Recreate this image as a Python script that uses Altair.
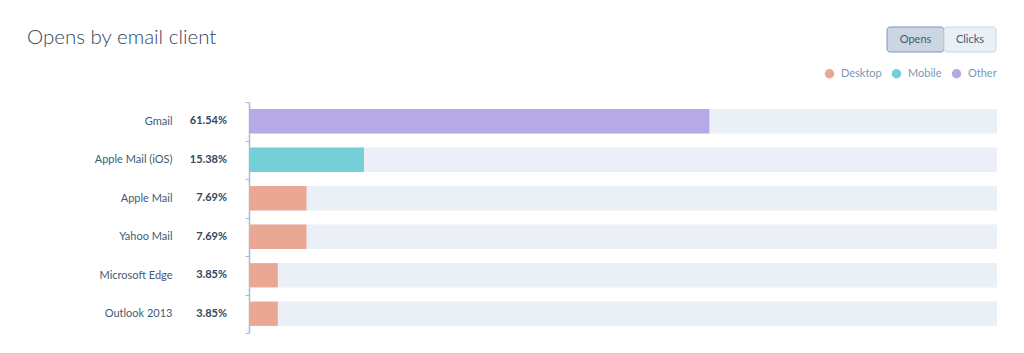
import altair as alt
import pandas as pd

clients = ["Gmail", "Apple Mail (iOS)", "Apple Mail", "Yahoo Mail", "Microsoft Edge", "Outlook 2013"]
pcts = [61.54, 15.38, 7.69, 7.69, 3.85, 3.85]
types = ["Other", "Mobile", "Desktop", "Desktop", "Desktop", "Desktop"]

type_names = ["Desktop", "Mobile", "Other"]
type_colors = ["#eaa794", "#74cfd7", "#b7a9e5"]

buttons = ["Opens", "Clicks"]

df = pd.DataFrame({"client": clients, "pct": pcts, "type": types})
df["label"] = [f"{p:.2f}%" for p in pcts]

FONT = "Lato"

y_enc = alt.Y(
    "client:N",
    sort=clients,
    title=None,
    scale=alt.Scale(paddingInner=0, paddingOuter=0),
    axis=alt.Axis(
        domainColor="#a9bccf",
        domainWidth=1.5,
        tickColor="#a9bccf",
        tickSize=4,
        tickBand="extent",
        labelPadding=73,
        labelFont=FONT,
        labelFontSize=11,
        labelColor="#425b76",
        labelAlign="right",
    ),
)

base = alt.Chart(df)

bg = base.transform_calculate(full="100").mark_bar(
    color="#eaf0f6", height={"band": 0.63}
).encode(
    x=alt.X("full:Q", scale=alt.Scale(domain=[0, 100], nice=False), axis=None),
    y=y_enc,
)

bars = base.mark_bar(height={"band": 0.63}).encode(
    x=alt.X("pct:Q", scale=alt.Scale(domain=[0, 100], nice=False), axis=None),
    y=y_enc,
    color=alt.Color(
        "type:N",
        scale=alt.Scale(domain=type_names, range=type_colors),
        legend=alt.Legend(
            title=None,
            orient="none",
            direction="horizontal",
            legendX=575,
            legendY=-34,
            symbolType="circle",
            symbolSize=90,
            symbolStrokeWidth=0,
            labelFont=FONT,
            labelFontSize=11,
            labelColor="#7c98b6",
            columnPadding=9,
            labelOffset=6,
        ),
    ),
)

pct_text = base.mark_text(
    align="right", baseline="middle", font=FONT, fontSize=11, fontWeight="bold", color="#33475b"
).encode(
    x=alt.value(-22),
    y=alt.Y("client:N", sort=clients),
    text="label:N",
)

btn_df = pd.DataFrame({"b": buttons, "x0": [638, 695], "x1": [695, 747],
                       "fill": ["#cbd6e2", "#eaf0f6"], "stroke": ["#7c98b6", "#cbd6e2"]})

btn_rect = alt.Chart(btn_df).mark_rect(cornerRadius=3, strokeWidth=1).encode(
    x=alt.X("x0:Q", scale=None),
    x2="x1:Q",
    y=alt.value(-75),
    y2=alt.value(-50),
    fill=alt.Fill("fill:N", scale=None, legend=None),
    stroke=alt.Stroke("stroke:N", scale=None, legend=None),
)
btn_text = alt.Chart(btn_df).transform_calculate(xc="(datum.x0 + datum.x1) / 2").mark_text(
    font=FONT, fontSize=11, color="#425b76", baseline="middle"
).encode(
    x=alt.X("xc:Q", scale=None),
    y=alt.value(-62),
    text="b:N",
)

chart = alt.layer(bg, bars, pct_text, btn_rect, btn_text).properties(
    width=748,
    height=231,
    background="white",
    autosize=alt.AutoSizeParams(type="none"),
    padding={"left": 249, "top": 102, "right": 27, "bottom": 20},
    title=alt.Title(
        "Opens by email client",
        anchor="start",
        frame="group",
        dx=-222,
        dy=26,
        font=FONT,
        fontSize=20.5,
        fontWeight=300,
        color="#33475b",
    ),
).configure_view(strokeWidth=0)

chart.save("out.html", embed_options={"renderer": "svg", "actions": False})
